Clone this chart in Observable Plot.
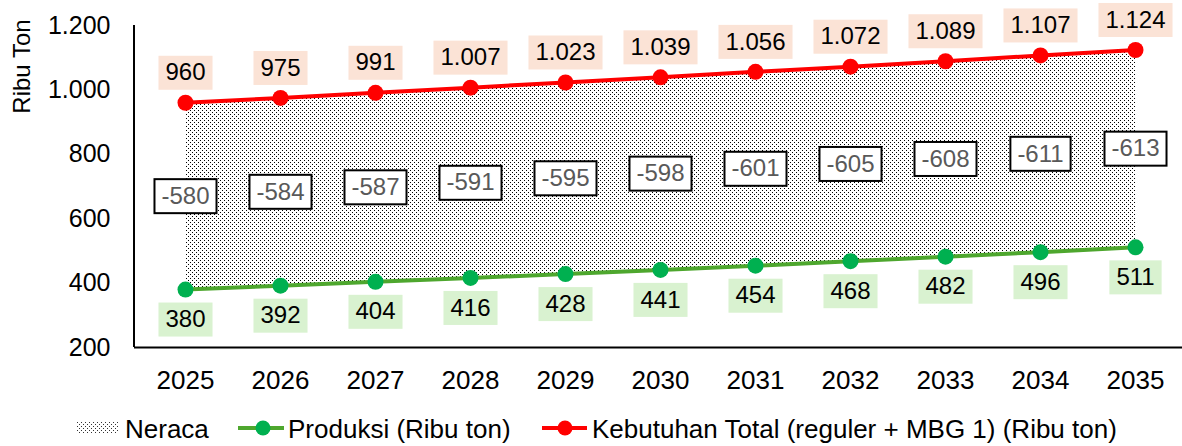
<!DOCTYPE html>
<html><head><meta charset="utf-8">
<script src="https://cdn.jsdelivr.net/npm/d3@7"></script>
<script src="https://cdn.jsdelivr.net/npm/@observablehq/plot@0.6"></script>
<style>
body{margin:0;background:#fff;font-family:"Liberation Sans",Arial,sans-serif;}
#chart{width:1182px;}
#legend{position:relative;width:1182px;height:51px;font-size:26px;color:#000;line-height:1;}
#legend .sw{position:absolute;}
#legend span{position:absolute;top:21px;white-space:nowrap;}
</style></head><body>
<div id="chart"></div>
<script>
const years = ["2025","2026","2027","2028","2029","2030","2031","2032","2033","2034","2035"];
const produksi = [380,392,404,416,428,441,454,468,482,496,511];
const kebutuhan = [960,975,991,1007,1023,1039,1056,1072,1089,1107,1124];
const neraca = [-580,-584,-587,-591,-595,-598,-601,-605,-608,-611,-613];
const yTicks = [200,400,600,800,1000,1200];
const yLabel = "Ribu Ton";
const seriesNames = ["Neraca","Produksi (Ribu ton)","Kebutuhan Total (reguler + MBG 1) (Ribu ton)"];
const colors = {prodLine:"#4EA72E", prodDot:"#00B050", demand:"#FF0000", prodBg:"#D9F2D0", demandBg:"#FBE3D6"};

const rows = years.map((year,i)=>({year, produksi:produksi[i], kebutuhan:kebutuhan[i], neraca:neraca[i], mid:(produksi[i]+kebutuhan[i])/2}));
const fmt = d3.formatLocale({decimal:",", thousands:".", grouping:[3], currency:["",""], minus:"-"}).format(",d");
const NS = "http://www.w3.org/2000/svg";
const ctx = document.createElement("canvas").getContext("2d");
const FONT = '"Liberation Sans", Arial, sans-serif';

function boxed(key, yKey, dy, bg, border, color){
  return Plot.text(rows, {x:"year", y:yKey, text:d=>fmt(d[key]), dy, fontSize:24, fill:color,
    render(index, scales, values, dimensions, context, next){
      const g = next(index, scales, values, dimensions, context);
      ctx.font = "24px " + FONT;
      const X = values.x, Y = values.y, T = values.text;
      const first = g.firstChild;
      for (const i of index){
        const w = ctx.measureText(T[i]).width + 14;
        const r = document.createElementNS(NS,"rect");
        r.setAttribute("x", X[i]-w/2);
        r.setAttribute("y", Y[i]-17);
        r.setAttribute("width", w);
        r.setAttribute("height", 34);
        r.setAttribute("fill", bg);
        r.setAttribute("stroke", border || "none");
        r.setAttribute("stroke-width", border ? 2 : 0);
        g.insertBefore(r, first);
      }
      return g;
    }});
}

const dotPattern = (id, fill) => `<pattern id="${id}" width="4" height="4" patternUnits="userSpaceOnUse">
    <rect x="0" y="0" width="1" height="1" fill="${fill}" shape-rendering="crispEdges"/><rect x="2" y="2" width="1" height="1" fill="${fill}" shape-rendering="crispEdges"/></pattern>`;
const defsMark = () => {
  const defs = document.createElementNS(NS,"defs");
  defs.innerHTML = dotPattern("neracaDots", "#000");
  return defs;
};
const yAxisLine = (index, scales, values, dimensions) => {
  const l = document.createElementNS(NS,"line");
  l.setAttribute("x1", dimensions.marginLeft); l.setAttribute("x2", dimensions.marginLeft);
  l.setAttribute("y1", scales.y(200)); l.setAttribute("y2", scales.y(1200));
  l.setAttribute("stroke","#000"); l.setAttribute("stroke-width",2);
  return l;
};

const chart = Plot.plot({
  width:1182, height:395,
  marginLeft:134, marginTop:25, marginBottom:48, marginRight:0,
  style:{fontFamily:FONT, color:"#000", background:"#fff"},
  x:{type:"point", domain:years, range:[134,1186], padding:0.5},
  y:{domain:[200,1200], ticks:yTicks},
  marks:[
    defsMark,
    Plot.areaY(rows, {x:"year", y1:"produksi", y2:"kebutuhan", fill:"url(#neracaDots)"}),
    Plot.ruleY([200], {stroke:"#000", strokeWidth:2}),
    yAxisLine,
    Plot.axisY({ticks:yTicks, tickFormat:fmt, tickSize:0, tickPadding:24, fontSize:25, label:null}),
    Plot.axisX({tickSize:0, tickPadding:23, fontSize:26, label:null}),
    Plot.text([yLabel], {frameAnchor:"top-left", rotate:-90, dx:-112, dy:41, fontSize:24, textAnchor:"middle", lineAnchor:"middle"}),
    boxed("neraca","mid",0,"#fff","#000","#595959"),
    Plot.lineY(rows, {x:"year", y:"produksi", stroke:colors.prodLine, strokeWidth:4}),
    Plot.dot(rows, {x:"year", y:"produksi", r:8, fill:colors.prodDot}),
    Plot.lineY(rows, {x:"year", y:"kebutuhan", stroke:colors.demand, strokeWidth:4}),
    Plot.dot(rows, {x:"year", y:"kebutuhan", r:8, fill:colors.demand}),
    boxed("kebutuhan","kebutuhan",-30,colors.demandBg,null,"#000"),
    boxed("produksi","produksi",30,colors.prodBg,null,"#000")
  ]
});
document.getElementById("chart").appendChild(chart);

// legend
const legend = document.createElement("div");
legend.id = "legend";
const sw = [
  `<svg class="sw" width="41" height="11" style="left:77px;top:27px"><defs>${dotPattern("legDots","#333")}</defs><rect width="41" height="11" fill="url(#legDots)"/></svg>`,
  `<svg class="sw" width="46" height="18" style="left:238px;top:24px"><line x1="0" x2="46" y1="9" y2="9" stroke="${colors.prodLine}" stroke-width="4"/><circle cx="25" cy="9" r="7.5" fill="${colors.prodDot}"/></svg>`,
  `<svg class="sw" width="45" height="18" style="left:542px;top:24px"><line x1="0" x2="45" y1="9" y2="9" stroke="${colors.demand}" stroke-width="4"/><circle cx="23" cy="9" r="7.5" fill="${colors.demand}"/></svg>`
];
const textLeft = [125, 288, 592];
seriesNames.forEach((name,i)=>{
  legend.insertAdjacentHTML("beforeend", sw[i] + `<span style="left:${textLeft[i]}px">${name}</span>`);
});
document.getElementById("chart").appendChild(legend);
</script>
</body></html>
